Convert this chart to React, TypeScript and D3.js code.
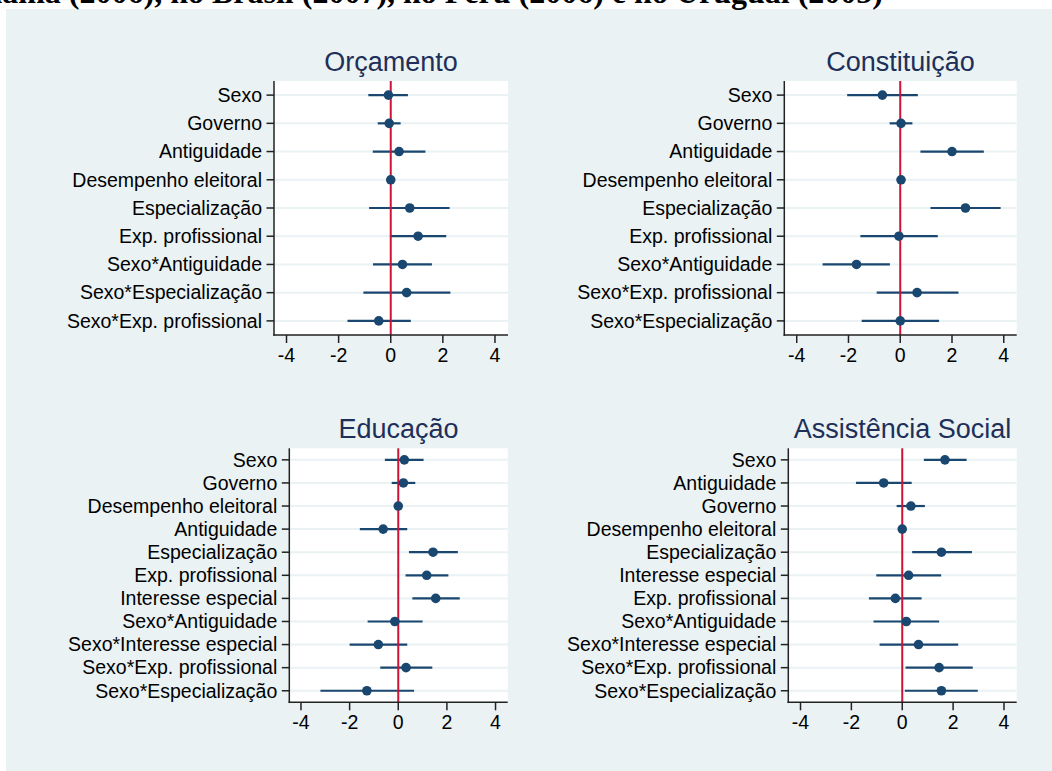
import React, { useRef, useEffect } from 'react';
import * as d3 from 'd3';

// Orçamento
const orcLabels = ['Sexo', 'Governo', 'Antiguidade', 'Desempenho eleitoral', 'Especialização', 'Exp. profissional', 'Sexo*Antiguidade', 'Sexo*Especialização', 'Sexo*Exp. profissional'];
const orcCoef = [-0.09, -0.06, 0.32, 0.0, 0.73, 1.05, 0.45, 0.61, -0.46];
const orcLo = [-0.86, -0.5, -0.69, -0.03, -0.83, -0.03, -0.68, -1.05, -1.66];
const orcHi = [0.66, 0.38, 1.33, 0.03, 2.26, 2.13, 1.58, 2.29, 0.77];

// Constituição
const conLabels = ['Sexo', 'Governo', 'Antiguidade', 'Desempenho eleitoral', 'Especialização', 'Exp. profissional', 'Sexo*Antiguidade', 'Sexo*Exp. profissional', 'Sexo*Especialização'];
const conCoef = [-0.69, 0.03, 2.0, 0.03, 2.52, -0.05, -1.69, 0.65, 0.0];
const conLo = [-2.05, -0.41, 0.78, 0.0, 1.17, -1.54, -3.0, -0.91, -1.49];
const conHi = [0.68, 0.47, 3.23, 0.06, 3.88, 1.45, -0.4, 2.25, 1.5];

// Educação
const eduLabels = ['Sexo', 'Governo', 'Desempenho eleitoral', 'Antiguidade', 'Especialização', 'Exp. profissional', 'Interesse especial', 'Sexo*Antiguidade', 'Sexo*Interesse especial', 'Sexo*Exp. profissional', 'Sexo*Especialização'];
const eduCoef = [0.25, 0.21, 0.0, -0.62, 1.43, 1.17, 1.54, -0.14, -0.82, 0.32, -1.29];
const eduLo = [-0.55, -0.27, -0.03, -1.58, 0.44, 0.3, 0.58, -1.26, -2.0, -0.74, -3.2];
const eduHi = [1.04, 0.7, 0.03, 0.37, 2.45, 2.06, 2.53, 1.0, 0.37, 1.4, 0.65];

// Assistência Social
const assLabels = ['Sexo', 'Antiguidade', 'Governo', 'Desempenho eleitoral', 'Especialização', 'Interesse especial', 'Exp. profissional', 'Sexo*Antiguidade', 'Sexo*Interesse especial', 'Sexo*Exp. profissional', 'Sexo*Especialização'];
const assCoef = [1.68, -0.73, 0.34, 0.0, 1.54, 0.25, -0.27, 0.16, 0.64, 1.45, 1.54];
const assLo = [0.85, -1.82, -0.22, -0.03, 0.39, -1.02, -1.31, -1.13, -0.89, 0.13, 0.1];
const assHi = [2.53, 0.37, 0.89, 0.03, 2.74, 1.53, 0.76, 1.45, 2.2, 2.77, 2.97];

const xTicks = [-4, -2, 0, 2, 4];
const xDomain = [-4.48, 4.5];

const headerText = 'no Panamá (2006), no Brasil (2007), no Peru (2006) e no Uruguai (2005)';

const panels = [
  { title: 'Orçamento', labels: orcLabels, coef: orcCoef, lo: orcLo, hi: orcHi, left: 274, right: 508, top: 81, bottom: 335, titleY: 71 },
  { title: 'Constituição', labels: conLabels, coef: conCoef, lo: conLo, hi: conHi, left: 784.3, right: 1016.7, top: 81, bottom: 335, titleY: 71 },
  { title: 'Educação', labels: eduLabels, coef: eduCoef, lo: eduLo, hi: eduHi, left: 289.3, right: 507.7, top: 448.3, bottom: 702.3, titleY: 438 },
  { title: 'Assistência Social', labels: assLabels, coef: assCoef, lo: assLo, hi: assHi, left: 788.3, right: 1016.7, top: 448.3, bottom: 702.3, titleY: 438 },
];

const FONT = '"Liberation Sans", Arial, Helvetica, sans-serif';
const NAVY = '#1a476f';

const App = () => {
  const svgRef = useRef<SVGSVGElement>(null);
  const width = 1052;
  const height = 771;

  useEffect(() => {
    const svg = d3.select(svgRef.current);
    svg.selectAll('*').remove();

    // graph region background
    svg.append('rect')
      .attr('x', 6).attr('y', 9)
      .attr('width', width - 6).attr('height', height - 9)
      .attr('fill', '#eaf2f3');

    // clipped document line above the figure
    svg.append('text')
      .attr('x', 883).attr('y', 2.5)
      .attr('text-anchor', 'end')
      .attr('font-family', '"Liberation Serif", "Times New Roman", serif')
      .attr('font-weight', 'bold')
      .attr('font-size', '32px')
      .attr('fill', '#000')
      .text(headerText);

    panels.forEach((p) => {
      const g = svg.append('g');
      const n = p.labels.length;

      const x = d3.scaleLinear().domain(xDomain).range([p.left, p.right]);
      const y = d3.scaleLinear().domain([0.5, n + 0.5]).range([p.top, p.bottom]);
      const rows = p.labels.map((label, i) => ({ label, i: i + 1, coef: p.coef[i], lo: p.lo[i], hi: p.hi[i] }));

      // plot region
      g.append('rect')
        .attr('x', p.left).attr('y', p.top)
        .attr('width', p.right - p.left).attr('height', p.bottom - p.top)
        .attr('fill', '#fff');

      // grid lines
      g.selectAll('line.grid')
        .data(rows)
        .join('line')
        .attr('class', 'grid')
        .attr('x1', p.left).attr('x2', p.right)
        .attr('y1', d => y(d.i)).attr('y2', d => y(d.i))
        .attr('stroke', '#eaf2f3')
        .attr('stroke-width', 2);

      // confidence intervals
      g.selectAll('line.ci')
        .data(rows)
        .join('line')
        .attr('class', 'ci')
        .attr('x1', d => x(d.lo)).attr('x2', d => x(d.hi))
        .attr('y1', d => y(d.i)).attr('y2', d => y(d.i))
        .attr('stroke', NAVY)
        .attr('stroke-width', 2.2);

      // reference line at zero
      g.append('line')
        .attr('x1', x(0)).attr('x2', x(0))
        .attr('y1', p.top).attr('y2', p.bottom)
        .attr('stroke', '#cf1237')
        .attr('stroke-width', 2);

      // point estimates
      g.selectAll('circle.pt')
        .data(rows)
        .join('circle')
        .attr('class', 'pt')
        .attr('cx', d => x(d.coef))
        .attr('cy', d => y(d.i))
        .attr('r', 4.8)
        .attr('fill', NAVY);

      // y axis
      g.append('line')
        .attr('x1', p.left).attr('x2', p.left)
        .attr('y1', p.top).attr('y2', p.bottom + 0.75)
        .attr('stroke', '#222').attr('stroke-width', 1.5);

      g.selectAll('line.ytick')
        .data(rows)
        .join('line')
        .attr('class', 'ytick')
        .attr('x1', p.left - 7.5).attr('x2', p.left)
        .attr('y1', d => y(d.i)).attr('y2', d => y(d.i))
        .attr('stroke', '#222').attr('stroke-width', 1.5);

      g.selectAll('text.ylab')
        .data(rows)
        .join('text')
        .attr('class', 'ylab')
        .attr('x', p.left - 12)
        .attr('y', d => y(d.i))
        .attr('dy', '0.35em')
        .attr('text-anchor', 'end')
        .attr('font-family', FONT)
        .attr('font-size', '19.5px')
        .attr('fill', '#000')
        .text(d => d.label);

      // x axis
      g.append('line')
        .attr('x1', p.left - 0.75).attr('x2', p.right)
        .attr('y1', p.bottom).attr('y2', p.bottom)
        .attr('stroke', '#222').attr('stroke-width', 1.5);

      g.selectAll('line.xtick')
        .data(xTicks)
        .join('line')
        .attr('class', 'xtick')
        .attr('x1', d => x(d)).attr('x2', d => x(d))
        .attr('y1', p.bottom).attr('y2', p.bottom + 8)
        .attr('stroke', '#222').attr('stroke-width', 1.5);

      g.selectAll('text.xlab')
        .data(xTicks)
        .join('text')
        .attr('class', 'xlab')
        .attr('x', d => x(d))
        .attr('y', p.bottom + 27)
        .attr('text-anchor', 'middle')
        .attr('font-family', FONT)
        .attr('font-size', '19.5px')
        .attr('fill', '#000')
        .text(d => String(d));

      // panel title
      g.append('text')
        .attr('x', (p.left + p.right) / 2)
        .attr('y', p.titleY)
        .attr('text-anchor', 'middle')
        .attr('font-family', FONT)
        .attr('font-size', '27px')
        .attr('fill', '#1e2f5a')
        .text(p.title);
    });
  }, []);

  return (
    <div style={{ position: 'absolute', left: 0, top: 0, width, height, background: '#fff' }}>
      <svg ref={svgRef} width={width} height={height} style={{ display: 'block' }} />
    </div>
  );
};

export default App;
